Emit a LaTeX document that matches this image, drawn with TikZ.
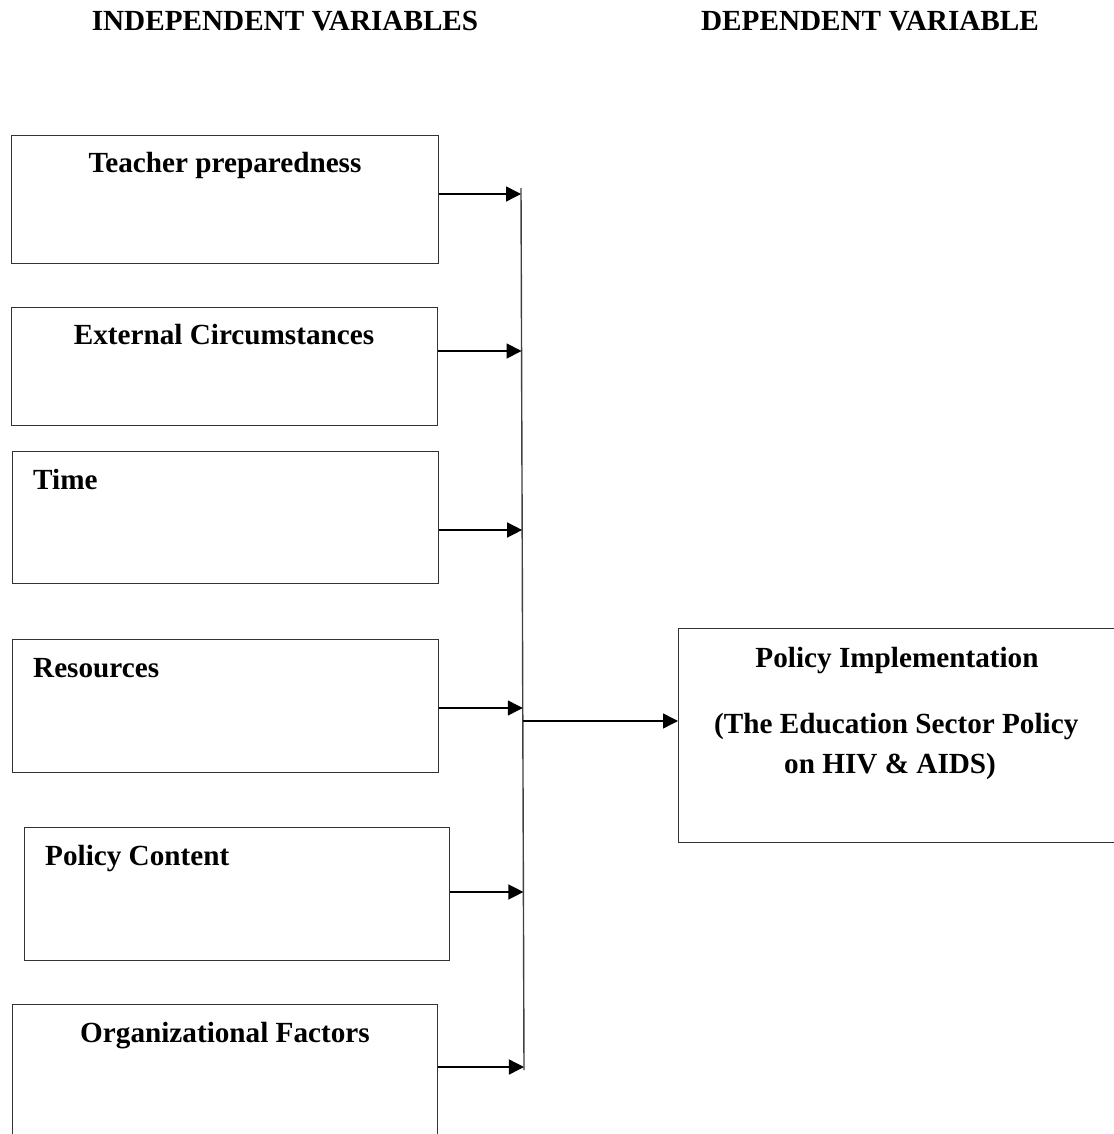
\documentclass[tikz,border=0pt]{standalone}
\usepackage{fontspec}
\setmainfont{Liberation Serif}
\usetikzlibrary{arrows.meta,calc}
\begin{document}
\begin{tikzpicture}[x=1pt,y=-1pt,
  box/.style={draw=black!80,line width=1.2pt,rectangle,anchor=north west,inner sep=0pt},
  txt/.style={font=\fontsize{29.2}{33}\selectfont\bfseries,inner sep=0pt,anchor=base},
  txtl/.style={txt,anchor=base west},
  arr/.style={line width=1.4pt,-{Triangle[length=15pt,width=15pt]}},
  bus/.style={line width=1.4pt,draw=black!75}]
\useasboundingbox (0,0) rectangle (1113,1134);

% column headings
\node[txt] (hind) at (285,31) {INDEPENDENT VARIABLES};
\node[txt] (hdep) at (870,31) {DEPENDENT VARIABLE};

% independent variable boxes
\node[box,minimum width=427pt,minimum height=128pt] (b1) at (11,135) {};
\node[box,minimum width=426pt,minimum height=118pt] (b2) at (11,307) {};
\node[box,minimum width=426pt,minimum height=132pt] (b3) at (12,451) {};
\node[box,minimum width=426pt,minimum height=133pt] (b4) at (12,639) {};
\node[box,minimum width=425pt,minimum height=133pt] (b5) at (24,827) {};
\node[box,minimum width=425pt,minimum height=150pt] (b6) at (12,1004) {};

\node[txt] (t1) at (225,172) {Teacher preparedness};
\node[txt] (t2) at (224,344) {External Circumstances};
\node[txtl] (t3) at (33,489) {Time};
\node[txtl] (t4) at (33,677) {Resources};
\node[txtl] (t5) at (45,865) {Policy Content};
\node[txt] (t6) at (225,1042) {Organizational Factors};

% dependent variable box
\node[box,minimum width=460pt,minimum height=214pt] (dv) at (678,628) {};
\node[txt] (d1) at (897,667) {Policy Implementation};
\node[txtl] (d2) at (714,733) {(The Education Sector Policy};
\node[txtl] (d3) at (784,773) {on HIV \& AIDS)};

% collecting line
\coordinate (top) at (521,188);
\coordinate (bot) at (524,1070);
\draw[bus] (top) -- (bot);
\coordinate (j1) at ($(top)!{(194-188)/882}!(bot)$);
\coordinate (j2) at ($(top)!{(351-188)/882}!(bot)$);
\coordinate (j3) at ($(top)!{(530-188)/882}!(bot)$);
\coordinate (j4) at ($(top)!{(708-188)/882}!(bot)$);
\coordinate (j5) at ($(top)!{(892-188)/882}!(bot)$);
\coordinate (j6) at ($(top)!{(1067-188)/882}!(bot)$);
\coordinate (jm) at ($(top)!{(721-188)/882}!(bot)$);

\draw[arr] (b1.east |- j1) -- (j1);
\draw[arr] (b2.east |- j2) -- (j2);
\draw[arr] (b3.east |- j3) -- (j3);
\draw[arr] (b4.east |- j4) -- (j4);
\draw[arr] (b5.east |- j5) -- (j5);
\draw[arr] (b6.east |- j6) -- (j6);
\draw[arr] (jm) -- (dv.west |- jm);
\end{tikzpicture}
\end{document}
